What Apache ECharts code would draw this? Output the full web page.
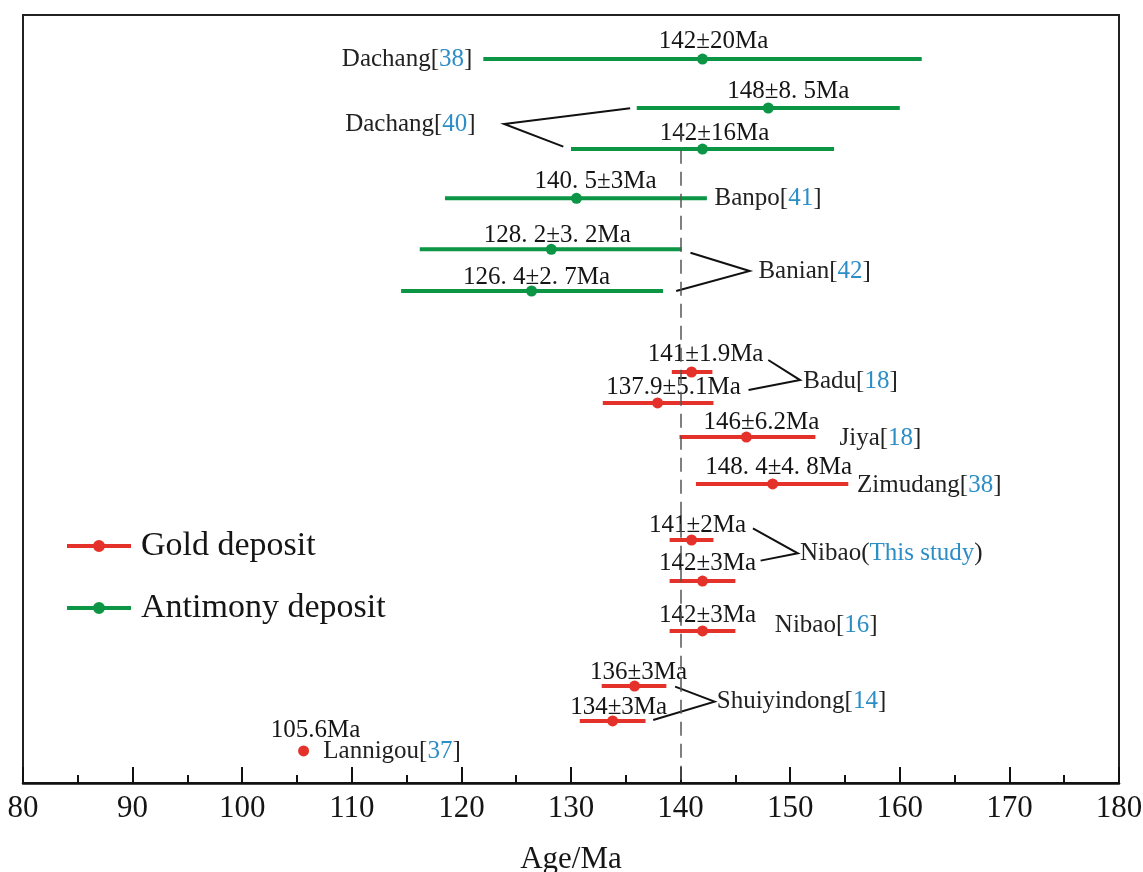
<!DOCTYPE html>
<html>
<head>
<meta charset="utf-8">
<script src="https://cdn.jsdelivr.net/npm/echarts@6/dist/echarts.min.js"></script>
<style>
  html, body { margin: 0; padding: 0; background: #fff; }
  #main { width: 1143px; height: 872px; }
</style>
</head>
<body>
<div id="main"></div>
<script>
var myChart = echarts.init(document.getElementById('main'));

// ages (Ma) as plotted, top row first
var ages = [142, 148, 142, 130.5, 128.2, 126.4, 141, 137.9, 146, 148.4, 141, 142, 142, 135.8, 133.8, 105.6];
// drawn error bar ends
var barLow = [122, 136, 130, 118.5, 116.2, 114.5, 139.2, 132.9, 139.9, 141.4, 139, 139, 139, 132.8, 130.8, null];
var barHigh = [162, 160, 154, 142.4, 140.1, 138.4, 142.9, 143.0, 152.3, 155.3, 143, 145, 145, 138.7, 136.8, null];
var ageLabels = ['142±20Ma', '148±8. 5Ma', '142±16Ma', '140. 5±3Ma', '128. 2±3. 2Ma', '126. 4±2. 7Ma',
  '141±1.9Ma', '137.9±5.1Ma', '146±6.2Ma', '148. 4±4. 8Ma', '141±2Ma', '142±3Ma', '142±3Ma',
  '136±3Ma', '134±3Ma', '105.6Ma'];
var deposit = ['Sb', 'Sb', 'Sb', 'Sb', 'Sb', 'Sb', 'Au', 'Au', 'Au', 'Au', 'Au', 'Au', 'Au', 'Au', 'Au', 'Au'];
// vertical row position (0 = top of plot)
var rowPos = [3.67, 7.75, 11.17, 15.28, 19.53, 23.0, 29.75, 32.33, 35.17, 39.08, 43.75, 47.17, 51.33, 55.92, 58.83, 61.33];

// locality names and their references
var siteNames = ['Dachang', 'Dachang', 'Banpo', 'Banian', 'Badu', 'Jiya', 'Zimudang', 'Nibao', 'Nibao', 'Shuiyindong', 'Lannigou'];
var siteRefs = ['38', '40', '41', '42', '18', '18', '38', 'This study', '16', '14', '37'];

// label placement (kept apart from the data)
var labelShift = [[11, -18], [20, -17], [12, -16], [19, -17], [6, -14], [5, -14],
  [14, -18], [16, -16], [15, -15], [6, -17], [6, -15], [5, -18], [5, -16], [4, -14], [6, -14], [12, -21]];
var siteAnchor = [[121.0, 3.67, 'right'], [121.3, 9.08, 'right'], [143.1, 15.28, 'left'], [147.1, 21.33, 'left'],
  [151.2, 30.5, 'left'], [154.5, 35.25, 'left'], [156.1, 39.17, 'left'], [150.9, 44.83, 'left'],
  [148.6, 50.83, 'left'], [143.3, 57.22, 'left'], [107.4, 61.39, 'left']];
var siteBracket = [null,
  [[135.4, 7.78], [123.9, 9.08], [129.3, 10.97]],
  null,
  [[140.9, 19.81], [146.3, 21.33], [139.6, 23.0]],
  [[148.0, 28.75], [150.9, 30.42], [146.2, 31.25]],
  null, null,
  [[146.6, 42.78], [150.7, 44.86], [147.3, 45.47]],
  null,
  [[139.5, 55.97], [143.1, 57.22], [137.5, 58.75]],
  null];

var RED = '#e4322b', GREEN = '#0b9544', BLUE = '#2d8ec6';
var SERIF = '"Liberation Serif", "DejaVu Serif", serif';

function rows(kind) {
  var out = [];
  ages.forEach(function (a, i) {
    if (deposit[i] === kind) out.push([a, rowPos[i], i]);
  });
  return out;
}

function renderBar(params, api) {
  var i = api.value(2);
  var y = api.value(1);
  var color = api.visual('color');
  var c = api.coord([api.value(0), y]);
  var kids = [];
  if (barLow[i] != null) {
    var a = api.coord([barLow[i], y]);
    var b = api.coord([barHigh[i], y]);
    kids.push({ type: 'line', shape: { x1: a[0], y1: a[1], x2: b[0], y2: b[1] },
      style: { stroke: color, lineWidth: 4 } });
  }
  kids.push({ type: 'circle', shape: { cx: c[0], cy: c[1], r: 5.5 }, style: { fill: color } });
  kids.push({ type: 'text', x: c[0] + labelShift[i][0], y: c[1] + labelShift[i][1],
    style: { text: ageLabels[i], fill: '#151515', fontSize: 25, fontFamily: SERIF,
      align: 'center', verticalAlign: 'middle' } });
  return { type: 'group', children: kids };
}

function renderSite(params, api) {
  var i = params.dataIndex;
  var p = api.coord([siteAnchor[i][0], siteAnchor[i][1]]);
  var txt = siteRefs[i] === 'This study'
    ? '{n|' + siteNames[i] + '(}{r|This study}{n|)}'
    : '{n|' + siteNames[i] + '[}{r|' + siteRefs[i] + '}{n|]}';
  var kids = [{ type: 'text', x: p[0], y: p[1],
    style: { text: txt, align: siteAnchor[i][2], verticalAlign: 'middle',
      rich: {
        n: { fontSize: 25, fontFamily: SERIF, fill: '#222' },
        r: { fontSize: 25, fontFamily: SERIF, fill: BLUE }
      } } }];
  if (siteBracket[i]) {
    kids.push({ type: 'polyline',
      shape: { points: siteBracket[i].map(function (q) { return api.coord(q); }) },
      style: { stroke: '#111', lineWidth: 2, fill: null } });
  }
  return { type: 'group', children: kids };
}

var legendIcon = 'path://M0,4h64v4H0z M26,6a6,6 0 1,1 12,0a6,6 0 1,1 -12,0z';

myChart.setOption({
  animation: false,
  grid: { left: 23, right: 24, top: 15, bottom: 89, show: true, borderColor: '#222', borderWidth: 2,
    outerBoundsMode: 'none', containLabel: false },
  legend: {
    orient: 'vertical', left: 67, top: 529, itemGap: 28, padding: 0,
    itemWidth: 64, itemHeight: 12,
    textStyle: { fontSize: 34, fontFamily: SERIF, color: '#151515', padding: [0, 0, 0, 5] },
    data: [{ name: 'Gold deposit', icon: legendIcon }, { name: 'Antimony deposit', icon: legendIcon }]
  },
  xAxis: {
    type: 'value', min: 80, max: 180, interval: 10,
    name: 'Age/Ma', nameLocation: 'middle', nameGap: 61,
    nameTextStyle: { fontSize: 31, fontFamily: SERIF, color: '#151515' },
    axisLine: { onZero: false, lineStyle: { color: '#111', width: 2.5 } },
    axisTick: { inside: true, length: 16, lineStyle: { color: '#111', width: 2 } },
    minorTick: { show: true, splitNumber: 2, length: 8, lineStyle: { color: '#111', width: 2 } },
    axisLabel: { fontSize: 31, fontFamily: SERIF, color: '#151515', margin: 10 },
    splitLine: { show: false }
  },
  yAxis: { type: 'value', min: 0, max: 64, inverse: true, show: false },
  series: [
    {
      name: 'Gold deposit', type: 'custom', color: RED,
      renderItem: renderBar, encode: { x: 0, y: 1 }, data: rows('Au'),
      markLine: {
        silent: true, symbol: 'none', label: { show: false },
        lineStyle: { color: '#555', type: [14, 8], width: 1.5 },
        data: [[{ coord: [140, 9.4] }, { coord: [140, 64] }]]
      }
    },
    {
      name: 'Antimony deposit', type: 'custom', color: GREEN,
      renderItem: renderBar, encode: { x: 0, y: 1 }, data: rows('Sb')
    },
    {
      name: 'sites', type: 'custom', silent: true,
      renderItem: renderSite, encode: { x: 0, y: 1 },
      data: siteAnchor.map(function (s) { return [s[0], s[1]]; })
    }
  ]
});
</script>
</body>
</html>
